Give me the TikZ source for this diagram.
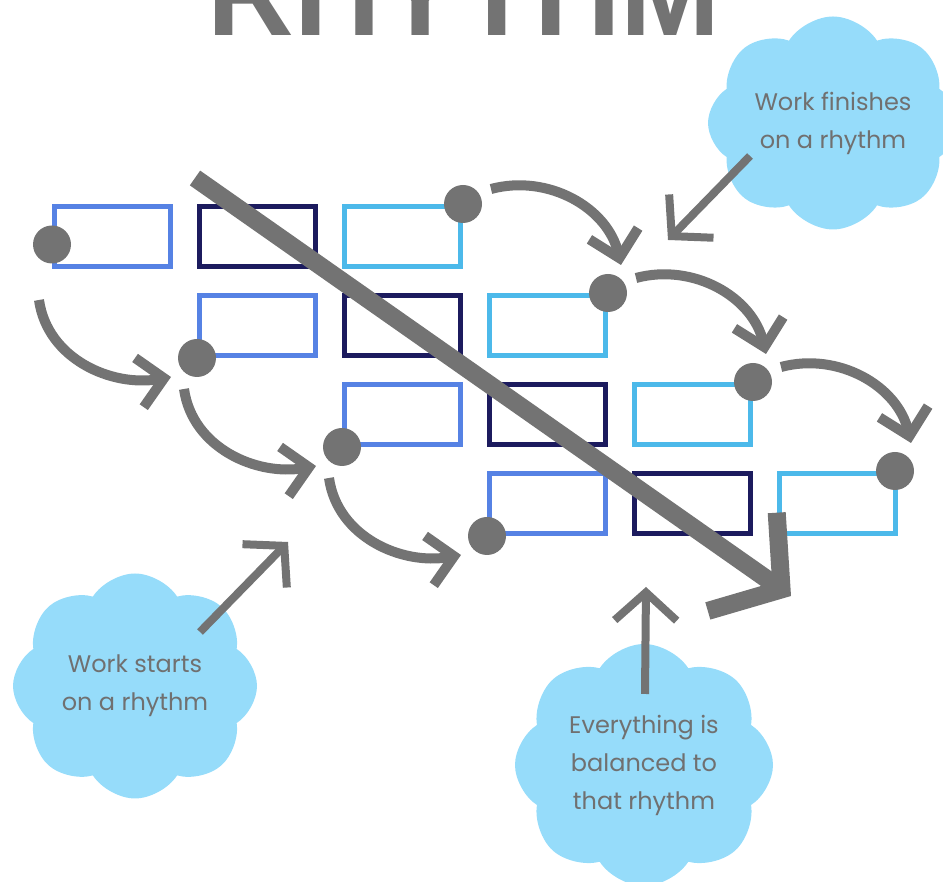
\documentclass[tikz,border=0pt]{standalone}
\usepackage{fontspec}
\setmainfont{Poppins}
\newfontfamily\titlefont{Liberation Sans}
\usetikzlibrary{positioning,arrows.meta,shapes.symbols}
\definecolor{midblue}{RGB}{86,130,228}
\definecolor{boxnavy}{RGB}{28,27,94}
\definecolor{skyblue}{RGB}{76,185,234}
\definecolor{darkgrey}{RGB}{115,115,115}
\definecolor{cloudblue}{RGB}{150,220,250}
\definecolor{textgrey}{RGB}{112,112,112}

\begin{document}
\begin{tikzpicture}[x=1pt,y=1pt,
    node distance=24pt,
    cell/.style={draw,line width=5pt,minimum width=116pt,minimum height=60pt,inner sep=0pt},
    dot/.style={circle,fill=darkgrey,minimum size=38pt,inner sep=0pt},
    flow/.style={draw=darkgrey,line width=10pt,-{Straight Barb[length=25pt,width=50pt,sharp]}},
    pointer/.style={draw=darkgrey,line width=8pt,-{Straight Barb[length=28pt,width=62pt,sharp]}},
    bigarrow/.style={draw=darkgrey,line width=18pt,-{Straight Barb[length=48pt,width=120pt,sharp]}},
    bubble/.style={cloud,cloud puffs=8,cloud puff arc=115,cloud ignores aspect,
        fill=cloudblue,text=textgrey,align=center,font=\fontsize{24}{38}\selectfont}]
    \useasboundingbox (0,0) rectangle (943,882);
    \clip (0,0) rectangle (943,882);

    % title, cut by the top edge
    \node[font=\titlefont\bfseries\fontsize{120}{120}\selectfont,text=darkgrey,anchor=base] (title) at (464,846) {RHYTHM};

    % clouds
    \node[bubble,minimum width=250pt,minimum height=213pt] (cfin) at (833,759) {Work finishes\\on a rhythm};
    \node[bubble,minimum width=244pt,minimum height=225pt] (cstart) at (135,196) {Work starts\\on a rhythm};
    \node[bubble,minimum width=258pt,minimum height=242pt] (cbal) at (644,117) {Everything is\\balanced to\\that rhythm};

    % the staggered work items
    \node[cell,draw=midblue] (b00) at (112.5,645.5) {};
    \node[cell,draw=boxnavy,right=of b00] (b01) {};
    \node[cell,draw=skyblue,right=of b01] (b02) {};
    \node[cell,draw=midblue,below=of b01] (b11) {};
    \node[cell,draw=boxnavy,right=of b11] (b12) {};
    \node[cell,draw=skyblue,right=of b12] (b13) {};
    \node[cell,draw=midblue,below=of b12] (b22) {};
    \node[cell,draw=boxnavy,right=of b22] (b23) {};
    \node[cell,draw=skyblue,right=of b23] (b24) {};
    \node[cell,draw=midblue,below=of b23] (b33) {};
    \node[cell,draw=boxnavy,right=of b33] (b34) {};
    \node[cell,draw=skyblue,right=of b34] (b35) {};

    \draw[bigarrow] ([shift={(-2,26)}]b01.north west) -- ([shift={(14,-60)}]b35.south west);

    % start and finish points
    \node[dot] (d1) at ([yshift=-8pt]b00.west) {};
    \node[dot] (d2) at (b11.south west) {};
    \node[dot] (d3) at (b22.south west) {};
    \node[dot] (d4) at (b33.south west) {};
    \node[dot] (d5) at (b02.north east) {};
    \node[dot] (d6) at (b13.north east) {};
    \node[dot] (d7) at (b24.north east) {};
    \node[dot] (d8) at ([xshift=-3pt]b35.north east) {};

    \draw[flow] ([shift={(-13,-31)}]b00.south west) to[out=-82,in=190] ([shift={(-26,-19)}]b11.south west);
    \draw[flow] ([shift={(-13,-31)}]b11.south west) to[out=-82,in=190] ([shift={(-26,-19)}]b22.south west);
    \draw[flow] ([shift={(-13,-31)}]b22.south west) to[out=-82,in=190] ([shift={(-26,-19)}]b33.south west);
    \draw[flow] ([shift={(28,15)}]b02.north east) to[out=15,in=103] ([shift={(13,28)}]b13.north east);
    \draw[flow] ([shift={(28,15)}]b13.north east) to[out=15,in=103] ([shift={(13,28)}]b24.north east);
    \draw[flow] ([shift={(28,15)}]b24.north east) to[out=15,in=103] ([shift={(13,28)}]b35.north east);

    \draw[pointer] ([shift={(-83,-33)}]cfin.center) -- ([shift={(60,53)}]b13.north east);
    \draw[pointer] ([shift={(65,54)}]cstart.center) -- ([shift={(-54,-95)}]b22.south west);
    \draw[pointer] ([shift={(1,71)}]cbal.center) -- ([shift={(14,-51)}]b34.south west);
\end{tikzpicture}
\end{document}
